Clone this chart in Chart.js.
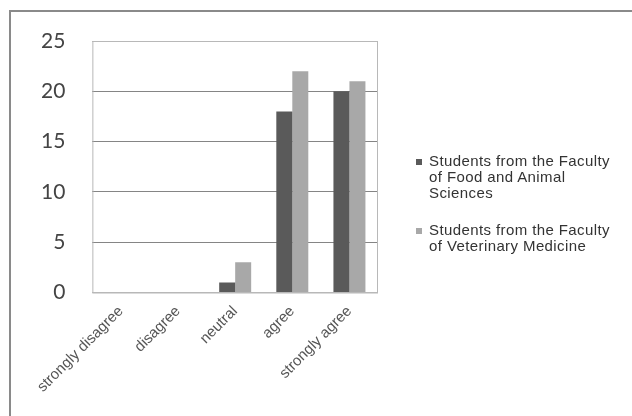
<!DOCTYPE html>
<html lang="en">

<head>
    <meta charset="UTF-8">
    <title>Survey answers by faculty</title>
    <script src="https://cdn.jsdelivr.net/npm/chart.js"></script>
    <style>
        body { margin: 0; background: #fff; }
        .frame { position: relative; width: 632px; height: 416px; }
        .edge { position: absolute; left: 9px; top: 10px; right: 0; bottom: 0;
                border-top: 2px solid #8a8a8a; border-left: 2px solid #8a8a8a; }
        .legend { position: absolute; left: 415px; top: 153px; width: 215px;
                  font: 15px "Liberation Sans", Arial, sans-serif; color: #333;
                  line-height: 16px; letter-spacing: 0.4px; }
        .legend .item { position: relative; padding-left: 14px; margin-bottom: 21px; }
        .legend .box { position: absolute; left: 1px; top: 6px; width: 6px; height: 6px; }
    </style>
</head>

<body>
    <div class="frame">
        <div class="edge"></div>
        <canvas id="myChart" width="632" height="416"></canvas>
        <div class="legend" id="legend"></div>
    </div>
<script>
    // answers on the agreement scale
    const categories = ['strongly disagree', 'disagree', 'neutral', 'agree', 'strongly agree'];
    const foodAnimal = [0, 0, 1, 18, 20];
    const veterinary = [0, 0, 3, 22, 21];
    const seriesNames = ['Students from the Faculty of Food and Animal Sciences',
                         'Students from the Faculty of Veterinary Medicine'];
    const legendLines = [['Students from the Faculty', 'of Food and Animal', 'Sciences'],
                         ['Students from the Faculty', 'of Veterinary Medicine']];
    const colors = ['#5a5a5a', '#a8a8a8'];

    // grey box round the plot
    const plotBox = {
        id: 'plotBox',
        afterDraw(chart) {
            const a = chart.chartArea;
            const c = chart.ctx;
            c.save();
            c.strokeStyle = '#b8b8b8';
            c.lineWidth = 1;
            c.strokeRect(a.left + 0.5, a.top + 0.5, a.right - a.left - 1, a.bottom - a.top);
            c.restore();
        }
    };

    const ctx = document.getElementById('myChart');
    const chart = new Chart(ctx, {
        type: 'bar',
        data: {
            labels: categories,
            datasets: [{
                label: seriesNames[0],
                data: foodAnimal,
                backgroundColor: colors[0]
            }, {
                label: seriesNames[1],
                data: veterinary,
                backgroundColor: colors[1]
            }]
        },
        options: {
            responsive: false,
            animation: false,
            layout: { padding: { left: 14, top: 41, right: 254, bottom: 10 } },
            datasets: { bar: { categoryPercentage: 0.56, barPercentage: 1 } },
            scales: {
                x: {
                    grid: { display: false, drawTicks: false },
                    border: { display: false },
                    ticks: {
                        maxRotation: 45, minRotation: 45, padding: 10,
                        color: '#555',
                        font: { family: 'Liberation Sans', size: 15 }
                    }
                },
                y: {
                    min: 0, max: 25,
                    grid: {
                        drawTicks: false,
                        color: (c) => (c.tick.value === 0 || c.tick.value === 25) ? '#b8b8b8' : '#858585'
                    },
                    border: { display: false },
                    ticks: {
                        stepSize: 5, padding: 27,
                        color: '#444',
                        font: { family: 'Lato', size: 21 }
                    }
                }
            },
            plugins: {
                legend: { display: false },
                tooltip: { enabled: false }
            }
        },
        plugins: [plotBox]
    });

    // legend beside the plot
    const legend = document.getElementById('legend');
    legendLines.forEach((lines, i) => {
        const item = document.createElement('div');
        item.className = 'item';
        const box = document.createElement('span');
        box.className = 'box';
        box.style.background = colors[i];
        item.appendChild(box);
        lines.forEach((line, j) => {
            if (j > 0) item.appendChild(document.createElement('br'));
            item.appendChild(document.createTextNode(line));
        });
        legend.appendChild(item);
    });
</script>
</body>

</html>
